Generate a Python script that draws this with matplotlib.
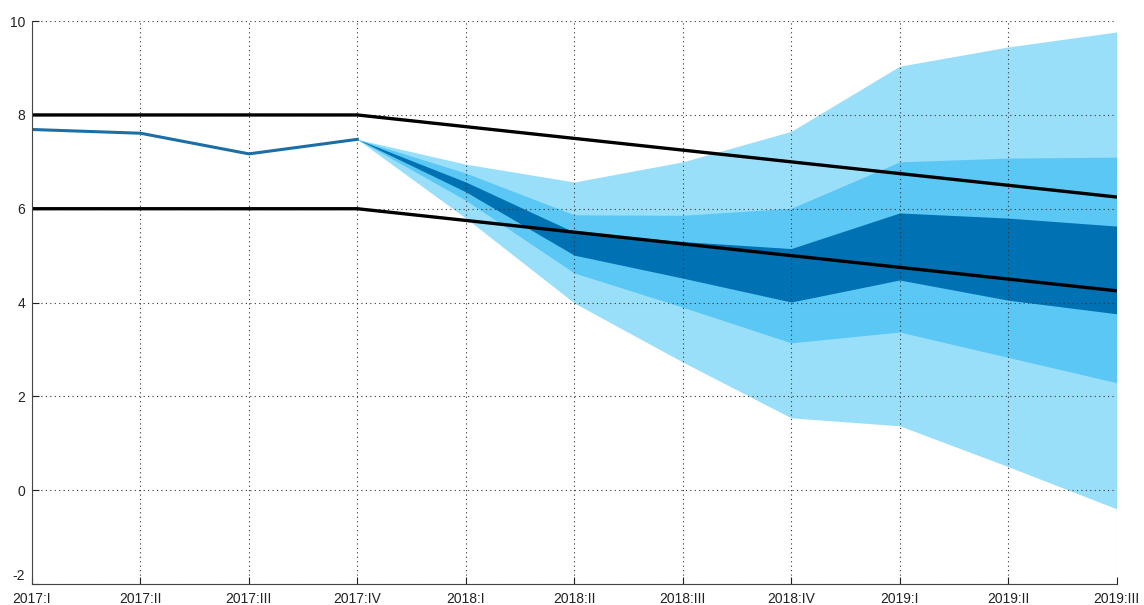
import numpy as np
import matplotlib.pyplot as plt
import matplotlib.transforms as mtransforms

plt.rcParams['font.family'] = ['Liberation Sans', 'DejaVu Sans']
plt.rcParams['axes.unicode_minus'] = False

# quarters 2017:I .. 2019:III
quarters = ['2017:I', '2017:II', '2017:III', '2017:IV', '2018:I', '2018:II',
            '2018:III', '2018:IV', '2019:I', '2019:II', '2019:III']

# history (actual)
hist = [7.69, 7.61, 7.17, 7.48]

# target corridor
upper_band = [8.0, 8.0, 8.0, 8.0, 7.75, 7.5, 7.25, 7.0, 6.75, 6.5, 6.25]
lower_band = [6.0, 6.0, 6.0, 6.0, 5.75, 5.5, 5.25, 5.0, 4.75, 4.5, 4.25]

# fan chart bounds, from 2017:IV onward
light_hi = [7.48, 6.95, 6.57, 7.00, 7.65, 9.04, 9.45, 9.77]
med_hi = [7.48, 6.76, 5.87, 5.86, 6.01, 7.00, 7.08, 7.10]
dark_hi = [7.48, 6.57, 5.50, 5.30, 5.15, 5.91, 5.80, 5.63]
dark_lo = [7.48, 6.36, 5.01, 4.52, 4.01, 4.48, 4.05, 3.76]
med_lo = [7.48, 6.18, 4.63, 3.90, 3.14, 3.37, 2.83, 2.29]
light_lo = [7.48, 5.80, 3.99, 2.73, 1.54, 1.37, 0.50, -0.40]

x = np.arange(len(quarters))
xf = x[3:]

fig = plt.figure(figsize=(11.44, 6.05), dpi=100)
ax = fig.add_axes([0.028, 0.035, 0.948, 0.930])

ax.fill_between(xf, light_lo, light_hi, color='#9ADFFA', lw=0, zorder=1)
ax.fill_between(xf, med_lo, med_hi, color='#5BC7F5', lw=0, zorder=1.1)
ax.fill_between(xf, dark_lo, dark_hi, color='#0071B2', lw=0, zorder=1.2)

ax.plot(x[:4], hist, color='#1b6fa6', lw=2.2, zorder=3)
ax.plot(x, upper_band, color='black', lw=2.4, zorder=4)
ax.plot(x, lower_band, color='black', lw=2.4, zorder=4)

ax.set_xlim(0, 10)
ax.set_ylim(-2, 10)
ax.set_xticks(x)
ax.set_xticklabels(quarters)
ax.set_yticks(range(-2, 11, 2))

ax.set_axisbelow(False)
ax.grid(True, linestyle=(0, (1, 3)), color='#333333', lw=0.8)
for s in ['top', 'right']:
    ax.spines[s].set_visible(False)
for s in ['left', 'bottom']:
    ax.spines[s].set_color('#444444')
    ax.spines[s].set_zorder(5)
ax.tick_params(direction='in', length=5, labelsize=10, colors='#222222')
ax.tick_params(axis='x', pad=6)
ax.tick_params(axis='y', pad=5)

# lift the bottom y label so it clears the first x label
fig.canvas.draw()
lab = ax.get_yticklabels()[0]
lab.set_transform(lab.get_transform() +
                  mtransforms.ScaledTranslation(0, 7 / 72, fig.dpi_scale_trans))

fig.savefig('out.png', dpi=100)
